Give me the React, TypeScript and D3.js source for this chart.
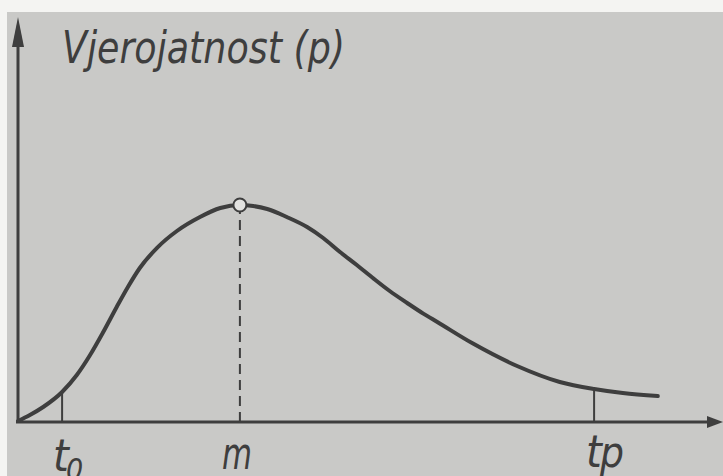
import * as d3 from 'd3';

// Curve (t in arbitrary units 0..100, p in 0..1)
const tValues = [0, 1.7, 3.6, 6.3, 8.4, 10.3, 12.1, 14.1, 15.7, 17.4, 19.9, 22.7, 26, 28.9, 31.7, 33.6, 35.6, 38.4, 41.3, 43.6, 46, 48.4, 50.7, 53.1, 55.6, 57.9, 59.9, 65, 71.3, 77.4, 82.3, 86.4, 91.4];
const pValues = [0.0025, 0.0175, 0.0375, 0.075, 0.1175, 0.1675, 0.2225, 0.2875, 0.3375, 0.385, 0.436, 0.4775, 0.5125, 0.535, 0.5425, 0.54, 0.5325, 0.5125, 0.4875, 0.46, 0.425, 0.3925, 0.36, 0.3275, 0.2975, 0.271, 0.25, 0.196, 0.14, 0.1, 0.0825, 0.0725, 0.065];

// Marked points on the t axis
const T0 = 6.3;
const MODE = 31.7;
const TP = 82.3;

const yTitle = 'Vjerojatnost (p)';

const W = 723;
const H = 476;
const INK = '#3e3e3e';
const PAPER = '#c9c9c7';

export default function App() {
  const x = d3.scaleLinear().domain([0, 100]).range([18, 718]);
  const y = d3.scaleLinear().domain([0, 1]).range([422, 22]);

  const pts = tValues.map((t, i) => [t, pValues[i]] as [number, number]);
  const line = d3.line<[number, number]>()
    .x(d => x(d[0]))
    .y(d => y(d[1]))
    .curve(d3.curveMonotoneX);

  const pAt = (t: number) => {
    const i = tValues.findIndex(v => v >= t);
    if (i <= 0) return pValues[0];
    const f = (t - tValues[i - 1]) / (tValues[i] - tValues[i - 1]);
    return pValues[i - 1] + f * (pValues[i] - pValues[i - 1]);
  };
  const peakP = pValues[tValues.indexOf(MODE)];

  const x0 = x(0);
  const y0 = y(0);
  const font = '"Liberation Sans Narrow", "DejaVu Sans Condensed", "Liberation Sans", sans-serif';

  return (
    <svg width={W} height={H} style={{ position: 'fixed', left: 0, top: 0, display: 'block' }}>
      <rect width={W} height={H} fill="#f4f4f2" />
      <rect x={7} y={12} width={W - 7} height={H - 12} fill={PAPER} />

      {/* axes */}
      <line x1={x0} y1={y0 + 1} x2={x0} y2={40} stroke={INK} strokeWidth={3} />
      <path d={`M${x0},17 L${x0 - 6},47 L${x0 + 6},47 Z`} fill={INK} />
      <line x1={x0 - 2} y1={y0} x2={710} y2={y0} stroke={INK} strokeWidth={3} />
      <path d={`M${W},${y0} L${W - 16},${y0 - 6} L${W - 16},${y0 + 6} Z`} fill={INK} />

      {/* ticks at t0 and tp */}
      <line x1={x(T0)} y1={y0} x2={x(T0)} y2={y(pAt(T0))} stroke={INK} strokeWidth={2} />
      <line x1={x(TP)} y1={y0} x2={x(TP)} y2={y(pAt(TP))} stroke={INK} strokeWidth={2} />

      {/* dashed line at the mode */}
      <line x1={x(MODE)} y1={y0} x2={x(MODE)} y2={y(peakP) + 6} stroke={INK} strokeWidth={2} strokeDasharray="10,6" />

      {/* curve */}
      <path d={line(pts) ?? ''} fill="none" stroke={INK} strokeWidth={4} strokeLinecap="round" strokeLinejoin="round" />
      <circle cx={x(MODE)} cy={y(peakP)} r={6.5} fill="#e2e2e0" stroke={INK} strokeWidth={2} />

      {/* labels */}
      <text x={62} y={63} fontFamily={font} fontStyle="italic" fontSize={45} fill={INK}
        textLength={283} lengthAdjust="spacingAndGlyphs">{yTitle}</text>

      <text x={53} y={471} fontFamily={font} fontStyle="italic" fontSize={45} fill={INK}>t</text>
      <text x={66} y={480} fontFamily={font} fontStyle="italic" fontSize={30} fill={INK}>0</text>

      <text x={222} y={469} fontFamily={font} fontStyle="italic" fontSize={44} fill={INK}
        textLength={30} lengthAdjust="spacingAndGlyphs">m</text>

      <text x={586} y={467} fontFamily={font} fontStyle="italic" fontSize={45} fill={INK}>t</text>
      <text x={600} y={467} fontFamily={font} fontStyle="italic" fontSize={42} fill={INK}>p</text>
    </svg>
  );
}
